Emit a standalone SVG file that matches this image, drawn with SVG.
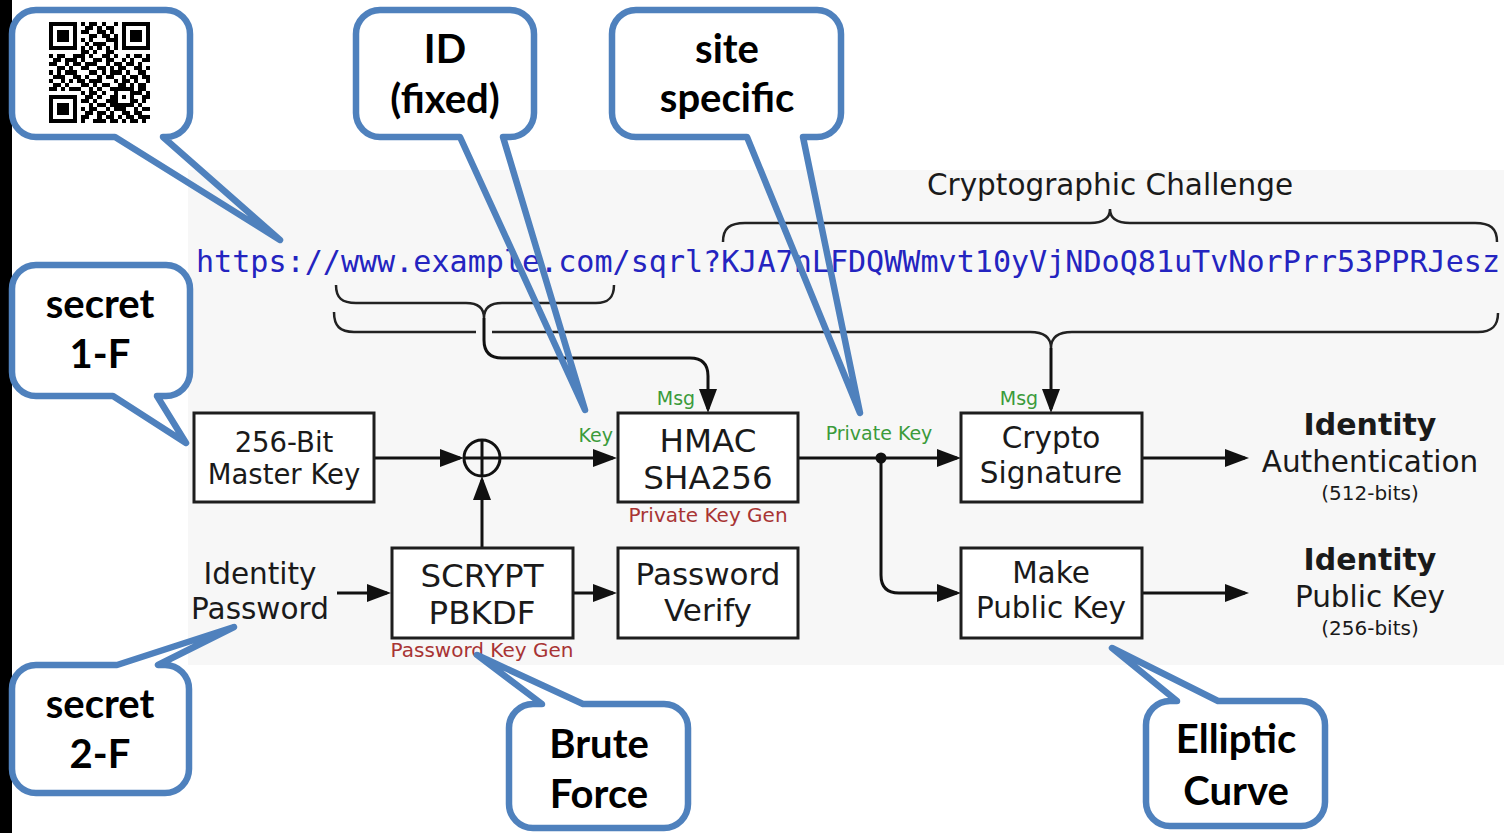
<svg xmlns="http://www.w3.org/2000/svg" width="1504" height="833" viewBox="0 0 1504 833">
<style>
.box{fill:#fff;stroke:#1e1e1e;stroke-width:3}
.bt{font-family:"DejaVu Sans",Verdana,sans-serif;fill:#1a1a1a;text-anchor:middle}
.lbl{font-family:"DejaVu Sans",Verdana,sans-serif;font-size:19px;fill:#3b9b3b}
.red{font-family:"DejaVu Sans",Verdana,sans-serif;font-size:20px;fill:#a83434;text-anchor:middle}
.wire{fill:none;stroke:#111;stroke-width:3}
.brace{fill:none;stroke:#222;stroke-width:2.5}
.co{fill:none;stroke:#4f81bd;stroke-width:6.5;stroke-linejoin:round}
.cofill{fill:#fff}
.ct{font-family:Lato,"Liberation Sans",sans-serif;font-weight:700;font-size:40px;fill:#000;text-anchor:middle}
</style>
<defs>
<marker id="ah" markerUnits="userSpaceOnUse" markerWidth="26" markerHeight="18" refX="20" refY="9" orient="auto">
<path d="M0,0 L24,9 L0,18 Z" fill="#111"/>
</marker>
</defs>
<rect x="0" y="0" width="12" height="833" fill="#000"/>
<rect x="188" y="170" width="1316" height="495" fill="#f7f7f7"/>

<g id="challenge">
<text class="bt" x="1110" y="195" font-size="29.5" fill="#333">Cryptographic Challenge</text>
<path class="brace" d="M723,242 C723,228 730,223 745,223 H1090 C1104,223 1110,218 1110,209 C1110,218 1116,223 1130,223 H1475 C1490,223 1497,228 1497,242"/>
</g>
<g id="url">
<text x="196" y="272" font-family="'DejaVu Sans Mono','Liberation Mono',monospace" font-size="30" fill="#2424c0" textLength="1304" lengthAdjust="spacingAndGlyphs">https://www.example.com/sqrl?KJA7nLFDQWWmvt10yVjNDoQ81uTvNorPrr53PPRJesz</text>
</g>

<g id="connectors">
<path class="brace" d="M336,285 C336,298 342,303 356,303 H466 C478,303 484,308 484,318 C484,308 490,303 502,303 H596 C608,303 614,298 614,285"/>
<path class="brace" d="M334,312 C334,326 340,332 354,332 H476 M492,332 H1030 C1044,332 1051,337 1051,348 C1051,337 1058,332 1072,332 H1478 C1492,332 1498,326 1498,313"/>
<path class="wire" d="M484,318 V340 Q484,358 502,358 H690 Q708,358 708,376 V409" marker-end="url(#ah)"/>
<path class="wire" d="M1051,348 V409" marker-end="url(#ah)"/>
<path class="wire" d="M375,458 H460" marker-end="url(#ah)"/>
<path class="wire" d="M500,458 H613" marker-end="url(#ah)"/>
<path class="wire" d="M482,548 V480" marker-end="url(#ah)"/>
<path class="wire" d="M337,593 H387" marker-end="url(#ah)"/>
<path class="wire" d="M573,593 H613" marker-end="url(#ah)"/>
<path class="wire" d="M798,458 H957" marker-end="url(#ah)"/>
<path class="wire" d="M881,458 V575 Q881,593 899,593 H957" marker-end="url(#ah)"/>
<path class="wire" d="M1142,458 H1245" marker-end="url(#ah)"/>
<path class="wire" d="M1142,593 H1245" marker-end="url(#ah)"/>
<circle cx="881" cy="458" r="5.5" fill="#111"/>
<text class="lbl" x="613" y="442" text-anchor="end">Key</text>
<text class="lbl" x="676" y="405" text-anchor="middle">Msg</text>
<text class="lbl" x="879" y="440" text-anchor="middle">Private Key</text>
<text class="lbl" x="1019" y="405" text-anchor="middle">Msg</text>
</g>

<g id="xor">
<circle cx="482" cy="458" r="18" fill="none" stroke="#111" stroke-width="3"/>
<path d="M464,458 H500 M482,440 V476" stroke="#111" stroke-width="3"/>
</g>

<g id="master-key">
<rect class="box" x="194" y="413" width="180" height="89"/>
<text class="bt" x="284" y="452" font-size="27.5">256-Bit</text>
<text class="bt" x="284" y="484" font-size="27.5">Master Key</text>
</g>
<g id="hmac">
<rect class="box" x="618" y="413" width="180" height="89"/>
<text class="bt" x="708" y="452" font-size="32.5">HMAC</text>
<text class="bt" x="708" y="489" font-size="32.5">SHA256</text>
<text class="red" x="708" y="522">Private Key Gen</text>
</g>
<g id="crypto-signature">
<rect class="box" x="961" y="413" width="181" height="89"/>
<text class="bt" x="1051" y="448" font-size="29.5">Crypto</text>
<text class="bt" x="1051" y="483" font-size="29.5">Signature</text>
</g>
<g id="identity-password">
<text class="bt" x="260" y="584" font-size="29.5" fill="#333">Identity</text>
<text class="bt" x="260" y="619" font-size="29.5" fill="#333">Password</text>
</g>
<g id="scrypt">
<rect class="box" x="392" y="548" width="181" height="90"/>
<text class="bt" x="482" y="587" font-size="32.5">SCRYPT</text>
<text class="bt" x="482" y="624" font-size="32.5">PBKDF</text>
<text class="red" x="482" y="657">Password Key Gen</text>
</g>
<g id="password-verify">
<rect class="box" x="618" y="548" width="180" height="90"/>
<text class="bt" x="708" y="585" font-size="31">Password</text>
<text class="bt" x="708" y="621" font-size="31">Verify</text>
</g>
<g id="make-public-key">
<rect class="box" x="961" y="548" width="181" height="90"/>
<text class="bt" x="1051" y="583" font-size="29.5">Make</text>
<text class="bt" x="1051" y="618" font-size="29.5">Public Key</text>
</g>
<g id="identity-auth">
<text class="bt" x="1370" y="435" font-size="30" font-weight="bold" fill="#222">Identity</text>
<text class="bt" x="1370" y="472" font-size="29.5" fill="#333">Authentication</text>
<text class="bt" x="1370" y="500" font-size="20" fill="#333">(512-bits)</text>
</g>
<g id="identity-pubkey">
<text class="bt" x="1370" y="570" font-size="30" font-weight="bold" fill="#222">Identity</text>
<text class="bt" x="1370" y="607" font-size="29.5" fill="#333">Public Key</text>
<text class="bt" x="1370" y="635" font-size="20" fill="#333">(256-bits)</text>
</g>

<g id="callout-qr">
<rect class="cofill" x="12" y="10" width="178" height="127" rx="24"/>
<path class="co" d="M36,10 H166 A24,24 0 0 1 190,34 V113 A24,24 0 0 1 166,137 H163 L280,240 L115,137 H36 A24,24 0 0 1 12,113 V34 A24,24 0 0 1 36,10 Z"/>
<g transform="translate(49,22) scale(4.04)" fill="#000" shape-rendering="crispEdges">
<path fill-rule="evenodd" d="M0 0h7v7h-7z M1 1h5v5h-5z M2 2h3v3h-3z M18 0h7v7h-7z M19 1h5v5h-5z M20 2h3v3h-3z M0 18h7v7h-7z M1 19h5v5h-5z M2 20h3v3h-3z"/>
<path d="M8 0h1v1h-1z M10 0h2v1h-2z M13 0h1v1h-1z M16 0h1v1h-1z M9 1h2v1h-2z M12 1h1v1h-1z M14 1h2v1h-2z M8 2h2v1h-2z M12 2h2v1h-2z M15 2h1v1h-1z M10 3h2v1h-2z M13 3h2v1h-2z M16 3h1v1h-1z M8 4h1v1h-1z M10 4h1v1h-1z M14 4h3v1h-3z M9 5h1v1h-1z M11 5h3v1h-3z M16 5h1v1h-1z M8 6h1v1h-1z M10 6h1v1h-1z M12 6h1v1h-1z M14 6h1v1h-1z M16 6h1v1h-1z M8 7h2v1h-2z M11 7h1v1h-1z M14 7h2v1h-2z M0 8h1v1h-1z M2 8h2v1h-2z M6 8h3v1h-3z M10 8h1v1h-1z M13 8h2v1h-2z M16 8h1v1h-1z M19 8h1v1h-1z M21 8h2v1h-2z M24 8h1v1h-1z M1 9h2v1h-2z M4 9h3v1h-3z M8 9h1v1h-1z M11 9h2v1h-2z M14 9h2v1h-2z M18 9h1v1h-1z M20 9h1v1h-1z M23 9h2v1h-2z M0 10h2v1h-2z M4 10h1v1h-1z M6 10h2v1h-2z M9 10h3v1h-3z M14 10h1v1h-1z M16 10h2v1h-2z M19 10h2v1h-2z M22 10h1v1h-1z M2 11h2v1h-2z M5 11h1v1h-1z M8 11h2v1h-2z M12 11h2v1h-2z M15 11h1v1h-1z M17 11h2v1h-2z M21 11h2v1h-2z M24 11h1v1h-1z M0 12h1v1h-1z M2 12h1v1h-1z M4 12h3v1h-3z M10 12h2v1h-2z M13 12h1v1h-1z M15 12h3v1h-3z M19 12h1v1h-1z M22 12h2v1h-2z M1 13h3v1h-3z M6 13h2v1h-2z M9 13h1v1h-1z M12 13h1v1h-1z M14 13h2v1h-2z M18 13h1v1h-1z M20 13h2v1h-2z M23 13h2v1h-2z M0 14h1v1h-1z M3 14h1v1h-1z M5 14h1v1h-1z M7 14h2v1h-2z M10 14h3v1h-3z M16 14h1v1h-1z M18 14h2v1h-2z M21 14h1v1h-1z M24 14h1v1h-1z M1 15h2v1h-2z M4 15h1v1h-1z M8 15h2v1h-2z M11 15h1v1h-1z M13 15h2v1h-2z M17 15h2v1h-2z M20 15h1v1h-1z M22 15h2v1h-2z M0 16h2v1h-2z M3 16h1v1h-1z M5 16h3v1h-3z M10 16h1v1h-1z M12 16h1v1h-1z M15 16h6v1h-6z M22 16h2v1h-2z M8 17h1v1h-1z M10 17h2v1h-2z M13 17h1v1h-1z M16 17h1v1h-1z M20 17h3v1h-3z M24 17h1v1h-1z M9 18h2v1h-2z M12 18h1v1h-1z M15 18h2v1h-2z M18 18h1v1h-1z M20 18h1v1h-1z M23 18h2v1h-2z M8 19h2v1h-2z M11 19h1v1h-1z M14 19h3v1h-3z M20 19h2v1h-2z M23 19h1v1h-1z M10 20h1v1h-1z M12 20h2v1h-2z M15 20h6v1h-6z M22 20h1v1h-1z M8 21h1v1h-1z M10 21h2v1h-2z M14 21h1v1h-1z M16 21h3v1h-3z M21 21h1v1h-1z M23 21h2v1h-2z M9 22h2v1h-2z M12 22h2v1h-2z M15 22h1v1h-1z M18 22h2v1h-2z M21 22h2v1h-2z M8 23h2v1h-2z M12 23h1v1h-1z M14 23h2v1h-2z M17 23h1v1h-1z M19 23h2v1h-2z M22 23h3v1h-3z M8 24h1v1h-1z M11 24h3v1h-3z M15 24h2v1h-2z M18 24h1v1h-1z M20 24h2v1h-2z M23 24h1v1h-1z"/>
</g>
</g>
<g id="callout-id">
<rect class="cofill" x="356" y="10" width="178" height="127" rx="24"/>
<path class="co" d="M380,10 H510 A24,24 0 0 1 534,34 V113 A24,24 0 0 1 510,137 H503 L585,410 L460,137 H380 A24,24 0 0 1 356,113 V34 A24,24 0 0 1 380,10 Z"/>
<text class="ct" x="445" y="63">ID</text>
<text class="ct" x="445" y="113">(fixed)</text>
</g>
<g id="callout-site">
<rect class="cofill" x="612" y="10" width="229" height="127" rx="24"/>
<path class="co" d="M636,10 H817 A24,24 0 0 1 841,34 V113 A24,24 0 0 1 817,137 H803 L860,413 L747,137 H636 A24,24 0 0 1 612,113 V34 A24,24 0 0 1 636,10 Z"/>
<text class="ct" x="727" y="63">site</text>
<text class="ct" x="727" y="112">specific</text>
</g>
<g id="callout-secret1">
<rect class="cofill" x="12" y="265" width="178" height="131" rx="24"/>
<path class="co" d="M36,265 H166 A24,24 0 0 1 190,289 V372 A24,24 0 0 1 166,396 H157 L186,443 L113,396 H36 A24,24 0 0 1 12,372 V289 A24,24 0 0 1 36,265 Z"/>
<text class="ct" x="100" y="318">secret</text>
<text class="ct" x="100" y="368">1-F</text>
</g>
<g id="callout-secret2">
<rect class="cofill" x="12" y="665" width="177" height="128" rx="24"/>
<path class="co" d="M36,665 H117 L234,627 L158,665 H165 A24,24 0 0 1 189,689 V769 A24,24 0 0 1 165,793 H36 A24,24 0 0 1 12,769 V689 A24,24 0 0 1 36,665 Z"/>
<text class="ct" x="100" y="718">secret</text>
<text class="ct" x="100" y="768">2-F</text>
</g>
<g id="callout-brute">
<rect class="cofill" x="509" y="704" width="179" height="124" rx="24"/>
<path class="co" d="M533,704 H542 L477,655 L583,704 H664 A24,24 0 0 1 688,728 V804 A24,24 0 0 1 664,828 H533 A24,24 0 0 1 509,804 V728 A24,24 0 0 1 533,704 Z"/>
<text class="ct" x="599" y="758">Brute</text>
<text class="ct" x="599" y="808">Force</text>
</g>
<g id="callout-elliptic">
<rect class="cofill" x="1146" y="701" width="179" height="125" rx="24"/>
<path class="co" d="M1170,701 H1177 L1112,648 L1218,701 H1301 A24,24 0 0 1 1325,725 V802 A24,24 0 0 1 1301,826 H1170 A24,24 0 0 1 1146,802 V725 A24,24 0 0 1 1170,701 Z"/>
<text class="ct" x="1236" y="753">Elliptic</text>
<text class="ct" x="1236" y="805">Curve</text>
</g>
</svg>
